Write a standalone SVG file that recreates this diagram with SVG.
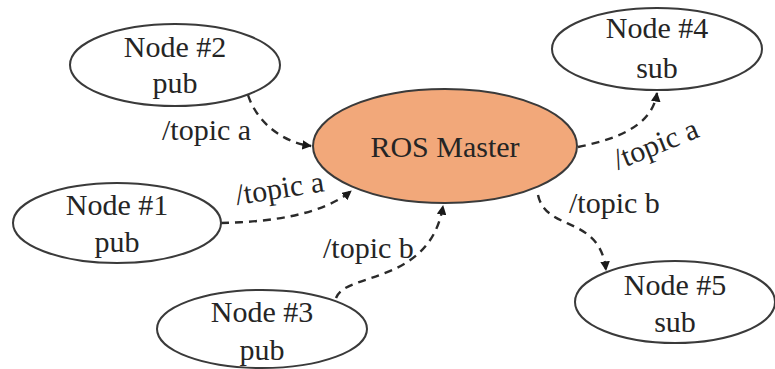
<svg xmlns="http://www.w3.org/2000/svg" width="775" height="369" viewBox="0 0 775 369">
  <style>
    .node ellipse { fill: #ffffff; stroke: #3a3a3a; stroke-width: 2; }
    #master ellipse { fill: #f2a87a; stroke: #3a3a3a; stroke-width: 2; }
    text { font-family: "Liberation Serif", "Times New Roman", serif; font-size: 30px; fill: #252525; text-anchor: middle; }
    .label { text-anchor: start; }
    .edge { fill: none; stroke: #2a2a2a; stroke-width: 2.4; stroke-dasharray: 8 6; marker-end: url(#arrow); }
  </style>
  <defs>
    <marker id="arrow" viewBox="0 0 10 10" refX="9" refY="5" markerWidth="4" markerHeight="4" orient="auto" markerUnits="strokeWidth">
      <path d="M0,0 L10,5 L0,10 z" fill="#1a1a1a"/>
    </marker>
  </defs>

  <rect width="775" height="369" fill="#ffffff"/>

  <!-- connectors -->
  <g id="connectors">
    <path class="edge" d="M248,95 C256,120 280,142 311,146"/>
    <path class="edge" d="M221,223 C270,222 322,215 351,191"/>
    <path class="edge" d="M336,298 C345,272 430,285 443,206"/>
    <path class="edge" d="M578,147 C612,140 652,128 657,93"/>
    <path class="edge" d="M538,195 C546,232 600,215 606,270"/>
    <text class="label" x="162" y="140">/topic a</text>
    <text class="label" x="237" y="205" transform="rotate(-9 237 205)">/topic a</text>
    <text class="label" x="323" y="258">/topic b</text>
    <text class="label" x="618" y="170" transform="rotate(-22 618 170)">/topic a</text>
    <text class="label" x="569" y="213">/topic b</text>
  </g>

  <!-- nodes -->
  <g id="master">
    <ellipse cx="445" cy="146" rx="132" ry="57"/>
    <text x="445" y="157">ROS Master</text>
  </g>
  <g id="node2" class="node">
    <ellipse cx="175" cy="65" rx="105" ry="41"/>
    <text x="175" y="57">Node #2</text>
    <text x="175" y="93">pub</text>
  </g>
  <g id="node1" class="node">
    <ellipse cx="117" cy="223" rx="104" ry="40"/>
    <text x="117" y="215">Node #1</text>
    <text x="117" y="252">pub</text>
  </g>
  <g id="node3" class="node">
    <ellipse cx="262" cy="329" rx="105" ry="39"/>
    <text x="262" y="322">Node #3</text>
    <text x="262" y="360">pub</text>
  </g>
  <g id="node4" class="node">
    <ellipse cx="657" cy="49" rx="105" ry="41"/>
    <text x="657" y="38">Node #4</text>
    <text x="657" y="78">sub</text>
  </g>
  <g id="node5" class="node">
    <ellipse cx="675" cy="302" rx="100" ry="41"/>
    <text x="675" y="295">Node #5</text>
    <text x="675" y="332">sub</text>
  </g>
</svg>
